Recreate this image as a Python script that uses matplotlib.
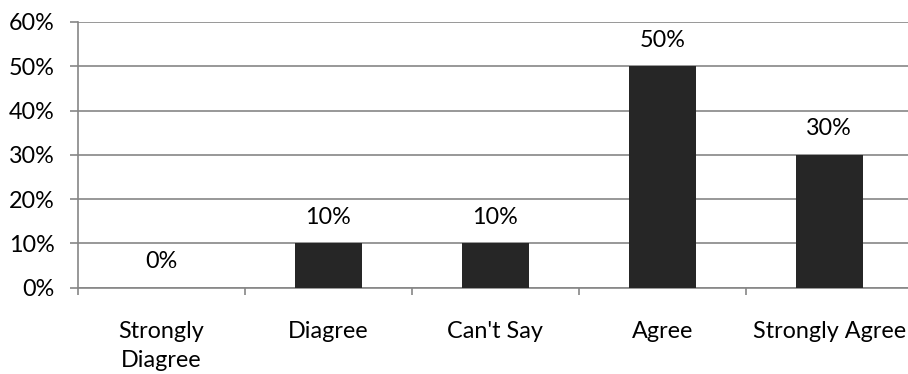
import matplotlib
matplotlib.use("Agg")
import matplotlib.pyplot as plt
from matplotlib.ticker import FixedLocator, NullFormatter

categories = ["Strongly\nDiagree", "Diagree", "Can't Say", "Agree", "Strongly Agree"]
values = [0, 10, 10, 50, 30]
y_ticks = [0, 10, 20, 30, 40, 50, 60]
y_tick_labels = ["0%", "10%", "20%", "30%", "40%", "50%", "60%"]

plt.rcParams["font.family"] = ["Lato", "DejaVu Sans"]

W, H = 908, 374
fig = plt.figure(figsize=(W / 100, H / 100), dpi=100)
x0, x1 = 78, 912.6
y0, y1 = 287.5, 22
ax = fig.add_axes([x0 / W, (H - y0) / H, (x1 - x0) / W, (y0 - y1) / H])

grid_col = "#868686"
bar_col = "#262626"
fs = 16.8
n = len(categories)
xs = [i + 0.5 for i in range(n)]

ax.bar(xs, values, width=0.40, color=bar_col, zorder=3)
for x, v in zip(xs, values):
    ax.annotate(f"{v}%", (x, v), xytext=(0, 11), textcoords="offset points",
                ha="center", va="bottom", fontsize=fs, color="#000000")

ax.set_xlim(0, n)
ax.set_ylim(0, 60)
ax.set_yticks(y_ticks)
ax.set_yticklabels(y_tick_labels, fontsize=fs)
ax.yaxis.grid(True, color=grid_col, linewidth=1.2, zorder=0)

ax.xaxis.set_major_locator(FixedLocator(list(range(n + 1))))
ax.xaxis.set_major_formatter(NullFormatter())
ax.xaxis.set_minor_locator(FixedLocator(xs))
ax.set_xticklabels(categories, minor=True, fontsize=fs, linespacing=1.5)
ax.tick_params(axis="x", which="minor", length=0, pad=24)
ax.tick_params(axis="x", which="major", length=5, width=1.2, color=grid_col, direction="out")
ax.tick_params(axis="y", length=6, width=1.2, color=grid_col, pad=11)

for s in ["top", "right"]:
    ax.spines[s].set_visible(False)
for s in ["left", "bottom"]:
    ax.spines[s].set_color(grid_col)
    ax.spines[s].set_linewidth(1.2)

fig.savefig("out.png", dpi=100)
